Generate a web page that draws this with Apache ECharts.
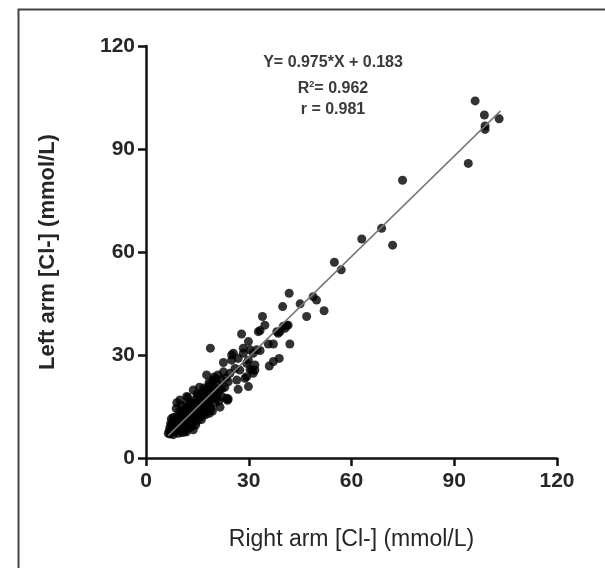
<!DOCTYPE html>
<html><head><meta charset="utf-8">
<script src="https://cdn.jsdelivr.net/npm/echarts@6/dist/echarts.min.js"></script>
<style>html,body{margin:0;padding:0;background:#fff}#c{width:605px;height:568px}</style>
</head><body><div id="c"></div>
<script>
// Right arm [Cl-] (x) vs Left arm [Cl-] (y), mmol/L
const rightArm = [
 6.5,6.8,7.0,7.2,7.5,7.8,8.0,8.2,8.4,8.6,8.8,9.0,9.0,9.2,9.5,9.6,9.8,10.0,10.0,10.3,10.5,10.6,10.8,11.0,11.0,11.3,11.5,11.6,11.8,12.0,12.0,12.3,12.5,12.6,12.8,
 13.0,13.0,13.2,13.4,13.6,13.8,13.8,14.0,14.2,14.4,14.5,14.6,14.8,15.0,15.0,15.2,15.4,15.6,15.8,16.0,16.0,16.3,16.5,16.6,16.8,17.0,17.0,17.3,17.5,17.6,
 18.0,18.0,18.3,18.5,18.6,18.8,19.0,19.2,19.4,19.6,19.7,20.0,20.2,20.5,20.8,21.0,21.3,21.5,22.0,22.3,22.6,22.6,23.0,23.4,23.8,24.0,24.0,24.5,25.0,25.0,
 25.5,26.0,26.5,26.9,26.9,27.4,27.9,28.4,28.4,28.9,29.4,29.4,29.9,29.9,29.9,30.4,30.9,31.3,31.3,31.8,
 33.3,33.3,34.0,34.7,35.7,36.0,37.2,37.2,38.6,38.9,39.1,40.1,40.6,41.5,42.0,39.9,41.8,
 9.0,18.8,17.7,19.7,13.8,11.9,9.9,17.2,19.7,23.6,32.8,38.2,41.1,30.4,32.3,31.8,
 7.0,7.6,8.0,8.5,9.3,9.8,10.4,10.9,11.4,11.9,12.4,12.9,13.4,13.9,14.4,14.9,15.4,15.9,16.4,16.9,17.4,17.9,18.4,18.9,19.4,19.9,20.4,21.0,21.6,22.2,
 8.8,10.2,12.2,15.6,7.4,11.2,13.6,16.2,
 45.0,48.8,49.8,52.0,46.9,55.0,57.0,63.0,68.8,72.0,74.9,94.1,96.1,98.8,99.0,99.0,103.1
];
const leftArm = [
 7.2,8.0,9.0,10.1,7.5,8.6,6.8,9.5,11.0,7.8,10.2,8.4,12.0,9.2,7.2,10.8,13.5,8.0,11.5,9.4,12.4,7.4,10.5,13.0,8.6,11.8,9.6,14.2,7.6,12.6,10.2,15.0,8.8,13.4,11.2,
 9.0,14.6,12.0,16.0,10.6,8.2,13.2,15.2,11.6,17.0,9.6,14.0,12.6,16.2,10.8,18.0,13.6,15.0,11.8,17.2,14.2,19.0,12.6,16.0,18.2,13.0,15.4,17.0,19.6,14.0,
 16.2,20.5,18.0,13.0,15.0,21.5,17.2,19.0,13.7,22.7,18.8,16.0,20.4,23.0,18.5,21.5,16.6,19.8,22.8,17.8,25.1,27.8,20.6,23.4,16.8,22.2,17.2,24.7,28.5,30.0,
 30.5,26.1,22.7,20.0,29.0,25.6,36.1,32.0,30.5,23.2,27.6,23.7,33.9,28.5,20.8,25.8,25.6,30.5,24.7,27.1,
 37.1,31.3,41.2,38.7,33.2,26.8,33.2,28.1,36.3,29.0,36.8,38.4,37.8,38.7,33.2,44.1,48.0,
 16.1,32.0,24.2,22.7,19.8,17.9,16.9,16.1,18.8,17.4,36.8,36.8,38.7,31.5,31.5,25.6,
 7.0,9.8,11.8,8.0,10.6,8.8,13.8,9.8,12.6,15.6,11.0,16.2,13.8,11.0,15.6,18.6,12.2,16.8,14.6,20.4,12.6,18.8,22.0,14.2,20.0,23.6,17.4,24.2,14.8,20.2,
 14.4,15.4,17.6,20.6,11.4,7.6,9.4,11.2,
 44.9,47.0,46.0,42.9,41.2,57.0,54.8,63.8,66.9,62.0,80.9,85.8,104.0,99.9,96.7,95.7,98.8
];
const xTicks = [0, 30, 60, 90, 120];
const slope = 0.975, intercept = 0.183;
const fitRange = [6.5, 103.5];
const annot = ['Y= 0.975*X + 0.183', 'R{sup|2}= 0.962', 'r = 0.981'];

const pts = rightArm.map((x, i) => [x, leftArm[i]]);
const fit = fitRange.map(x => [x, slope * x + intercept]);

const chart = echarts.init(document.getElementById('c'), null, {renderer: 'canvas'});
const axisCommon = {
  type: 'value', min: xTicks[0], max: xTicks[xTicks.length - 1], interval: 30,
  splitLine: {show: false},
  axisLine: {show: true, lineStyle: {color: '#111', width: 2.5}},
  axisTick: {show: true, length: 8, lineStyle: {color: '#111', width: 2.5}},
  axisLabel: {fontFamily: 'Liberation Sans', fontSize: 21, fontWeight: 'bold', color: '#262626'},
  nameLocation: 'middle'
};
const annStyle = {fontFamily: 'Liberation Sans', fontSize: 16, fontWeight: 'bold', fill: '#3a3a3a', align: 'center', verticalAlign: 'middle'};
chart.setOption({
  animation: false,
  backgroundColor: '#fff',
  grid: {left: 146, right: 48, top: 46, bottom: 110, containLabel: false},
  xAxis: Object.assign({}, axisCommon, {
    name: 'Right arm [Cl-] (mmol/L)', nameGap: 70,
    nameTextStyle: {fontFamily: 'Liberation Sans', fontSize: 23, color: '#262626'},
    axisLabel: Object.assign({}, axisCommon.axisLabel, {margin: 13})
  }),
  yAxis: Object.assign({}, axisCommon, {
    name: 'Left arm [Cl-] (mmol/L)', nameGap: 87,
    nameTextStyle: {fontFamily: 'Liberation Sans', fontSize: 22, fontWeight: 'bold', color: '#262626'},
    axisLabel: Object.assign({}, axisCommon.axisLabel, {margin: 11})
  }),
  series: [
    {type: 'scatter', data: pts, symbolSize: 9, itemStyle: {color: '#000'}, z: 2},
    {type: 'line', data: fit, symbol: 'none', lineStyle: {color: '#777', width: 1.5}, z: 3}
  ],
  graphic: [
    {type: 'rect', shape: {x: 18.5, y: 9.5, width: 640, height: 620}, style: {fill: 'none', stroke: '#444', lineWidth: 2}, silent: true},
    {type: 'text', x: 333, y: 63, style: Object.assign({text: annot[0]}, annStyle)},
    {type: 'text', x: 333, y: 89, style: Object.assign({text: annot[1],
      rich: {sup: {fontSize: 9, fontWeight: 'bold', fill: '#3a3a3a', verticalAlign: 'top', padding: [0, 0, 9, 0], fontFamily: 'Liberation Sans'}}}, annStyle)},
    {type: 'text', x: 333, y: 110, style: Object.assign({text: annot[2]}, annStyle)}
  ]
});
</script></body></html>
